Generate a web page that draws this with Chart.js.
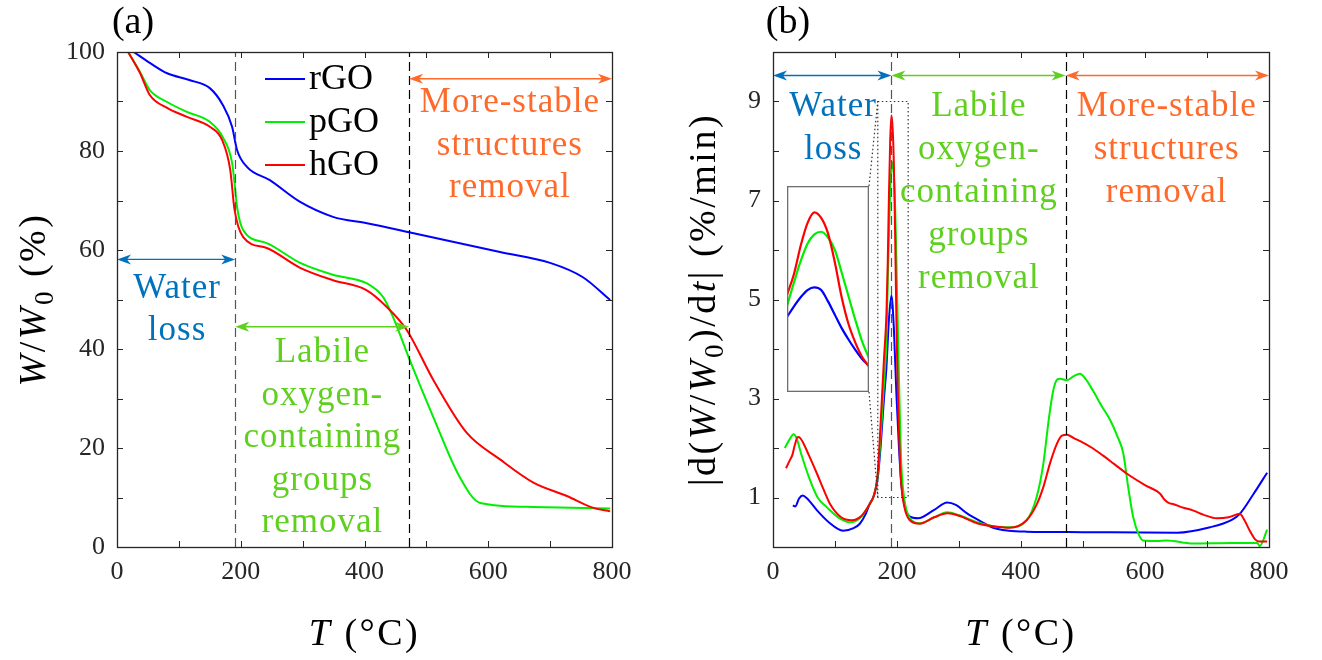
<!DOCTYPE html>
<html>
<head>
<meta charset="utf-8">
<title>TGA / DTG of rGO, pGO, hGO</title>
<script src="https://cdn.jsdelivr.net/npm/chart.js@4.4.1/dist/chart.umd.min.js"></script>
<style>
  html, body { margin: 0; padding: 0; background: #fff; }
  #page { position: relative; width: 1322px; height: 660px; overflow: hidden; }
  .panel { position: absolute; top: 0; width: 661px; height: 660px; }
  #panelA { left: 0; }
  #panelB { left: 661px; }
  #insetBox { position: absolute; left: 787px; top: 186px; width: 82px; height: 206px; background: #fff; }
</style>
</head>
<body>
<div id="page">
  <div class="panel" id="panelA"><canvas id="tgaChart"></canvas></div>
  <div class="panel" id="panelB"><canvas id="dtgChart"></canvas></div>
  <div id="insetBox"><canvas id="insetChart"></canvas></div>
</div>
<script>
const FONT = '"Liberation Serif", "Times New Roman", serif';
const INK = "#262626";

const seriesNames = ["rGO", "pGO", "hGO"];
const seriesColors = ["#0000ff", "#00ee00", "#ff0000"];

// (a) residual mass W/W0 (%) against T (°C)
const tgaT_rGO = [27, 53, 81, 118, 150, 171, 186, 194, 210, 247, 296, 349, 404, 472, 619, 700, 753, 797];
const tgaW_rGO = [100, 97.8, 95.7, 94.3, 92.7, 89.3, 84.9, 80.2, 76.8, 74.1, 69.7, 66.7, 65.4, 63.6, 59.6, 57.4, 54.5, 49.9];
const tgaT_pGO = [18, 37, 53, 81, 113, 150, 171, 186, 190, 194, 204, 242, 296, 349, 403, 430, 446, 473, 511, 554, 587, 672, 797];
const tgaW_pGO = [100, 96.0, 92.3, 89.9, 87.9, 85.9, 82.8, 77.6, 73.5, 68.7, 64, 61.4, 57.4, 55, 53.3, 50.5, 46.5, 37.8, 26.3, 14.1, 8.9, 8.1, 7.8];
const tgaT_hGO = [18, 37, 53, 81, 113, 150, 170, 183, 190, 204, 242, 296, 349, 403, 436, 468, 511, 565, 619, 673, 727, 770, 797];
const tgaW_hGO = [100, 95.8, 91.3, 88.7, 86.9, 84.9, 82.2, 76.2, 68.1, 62.6, 60.4, 56.4, 53.9, 51.9, 48.5, 43.9, 33.8, 23.1, 17.7, 13.0, 10.3, 7.9, 7.2];

// (b) |d(W/W0)/dt| (%/min) against T (°C)
const dtgT_rGO = [32, 36, 42, 48, 55, 71, 90, 113, 130, 140, 150, 156, 163, 169, 174, 179, 183, 187, 191, 195,
  199, 203, 207, 212, 220, 234, 260, 281, 295, 313, 335, 355, 380, 409, 500, 652, 705, 740, 753, 775, 797];
const dtgD_rGO = [0.84, 0.82, 0.98, 1.04, 0.98, 0.74, 0.5, 0.33, 0.38, 0.47, 0.68, 0.87, 1.05, 1.4, 2.1, 3.0, 3.64, 4.6, 5.08, 4.4,
  3.1, 2.05, 1.26, 0.85, 0.62, 0.58, 0.75, 0.9, 0.85, 0.68, 0.52, 0.39, 0.33, 0.31, 0.30, 0.29, 0.40, 0.55, 0.67, 1.07, 1.5];
const dtgT_pGO = [19, 27, 33, 38, 45, 60, 72, 87, 105, 124, 140, 156, 163, 169, 174, 179, 183, 185, 187, 189,
  191, 193, 195, 197, 199, 201, 203, 205, 207, 212, 220, 237, 260, 281, 300, 329, 355, 382, 409, 425,
  436, 445, 452, 458, 463, 474, 485, 495, 505, 516, 530, 544, 555, 565, 573, 581, 590, 597, 620, 635,
  677, 740, 781, 785, 797];
const dtgD_pGO = [2.0, 2.18, 2.28, 2.2, 1.9, 1.34, 1.0, 0.8, 0.6, 0.5, 0.58, 0.87, 1.05, 1.45, 2.3, 3.3, 4.17, 5.3, 6.35, 7.2,
  7.65, 7.78, 7.5, 6.9, 5.8, 4.65, 3.5, 2.45, 1.65, 0.95, 0.6, 0.48, 0.6, 0.7, 0.64, 0.5, 0.42, 0.4, 0.54, 1.0,
  1.68, 2.6, 3.16, 3.38, 3.4, 3.37, 3.45, 3.5, 3.38, 3.16, 2.85, 2.56, 2.25, 1.89, 1.2, 0.6, 0.25, 0.13, 0.12, 0.13,
  0.07, 0.08, 0.08, 0.02, 0.35];
const dtgT_hGO = [21, 27, 31, 35, 40, 44, 48, 58, 71, 82, 92, 110, 127, 142, 156, 163, 169, 174, 179, 183,
  185, 187, 189, 191, 193, 195, 197, 199, 201, 203, 205, 207, 212, 220, 237, 260, 282, 300, 329, 355,
  382, 409, 425, 436, 447, 458, 466, 474, 485, 500, 515, 532, 550, 571, 600, 624, 632, 640, 645, 660,
  677, 695, 716, 735, 753, 760, 769, 778, 785, 797];
const dtgD_hGO = [1.59, 1.75, 1.85, 2.05, 2.22, 2.2, 2.12, 1.85, 1.48, 1.15, 0.87, 0.6, 0.54, 0.62, 0.87, 1.05, 1.5, 2.6, 3.8, 4.71,
  5.7, 7.1, 8.2, 8.72, 8.45, 7.7, 6.3, 4.6, 3.3, 2.4, 1.7, 1.24, 0.8, 0.55, 0.47, 0.6, 0.68, 0.63, 0.48, 0.42,
  0.39, 0.54, 0.85, 1.21, 1.7, 2.09, 2.25, 2.27, 2.2, 2.11, 2.0, 1.85, 1.68, 1.48, 1.25, 1.08, 0.95, 0.88, 0.87, 0.8,
  0.74, 0.65, 0.58, 0.6, 0.67, 0.55, 0.33, 0.15, 0.11, 0.11];

// magnified main peak
const insetT = [183, 185, 187, 189, 191, 193, 195, 197, 199, 201, 203, 205, 207];
const inset_rGO = [3.64, 4.15, 4.6, 4.95, 5.08, 4.95, 4.4, 3.75, 3.1, 2.55, 2.05, 1.6, 1.26];
const inset_pGO = [4.17, 5.3, 6.35, 7.2, 7.65, 7.78, 7.5, 6.9, 5.8, 4.65, 3.5, 2.45, 1.65];
const inset_hGO = [4.71, 5.7, 7.1, 8.2, 8.72, 8.45, 7.7, 6.3, 4.6, 3.3, 2.4, 1.7, 1.24];
const zoomBoxT = [169, 218];
const zoomBoxD = [1, 9];

// decomposition stages
const regionBounds = [0, 191, 472, 800];
const regionNames = [
  ["Water", "loss"],
  ["Labile", "oxygen-", "containing", "groups", "removal"],
  ["More-stable", "structures", "removal"],
];
const regionColors = ["#0072BD", "#5FD01E", "#FF6A2A"];
const regionTextT = [97, 332, 635];

Chart.defaults.font.family = FONT;
Chart.defaults.color = INK;
Chart.defaults.animation = false;
Chart.defaults.plugins.legend.display = false;
Chart.defaults.plugins.tooltip.enabled = false;

const pts = (xs, ys) => xs.map((x, i) => ({ x, y: ys[i] }));
const font = (size, italic) => `${italic ? "italic " : ""}${size}px ${FONT}`;

function lineDataset(i, xs, ys, width = 2) {
  return {
    label: seriesNames[i],
    data: pts(xs, ys),
    borderColor: seriesColors[i],
    borderWidth: width,
    pointRadius: 0,
    cubicInterpolationMode: "monotone",
    order: 3 - i,
  };
}

// text made of pieces (italic symbols, subscripts), centred on x
function drawRich(ctx, parts, size, x, y, vertical) {
  ctx.save();
  ctx.translate(x, y);
  if (vertical) ctx.rotate(-Math.PI / 2);
  ctx.letterSpacing = "2.5px";
  ctx.textBaseline = "alphabetic";
  ctx.textAlign = "left";
  ctx.fillStyle = "#000";
  const fontOf = (p) => font(p.sub ? Math.round(size * 0.7) : size, p.it);
  let total = 0;
  const widths = parts.map((p) => {
    ctx.font = fontOf(p);
    const w = ctx.measureText(p.t).width;
    total += w;
    return w;
  });
  let cx = -total / 2;
  parts.forEach((p, i) => {
    ctx.font = fontOf(p);
    ctx.fillText(p.t, cx, p.sub ? size * 0.22 : 0);
    cx += widths[i];
  });
  ctx.restore();
}

function drawArrow(ctx, x1, x2, y, color) {
  ctx.strokeStyle = color;
  ctx.fillStyle = color;
  ctx.lineWidth = 1.4;
  ctx.beginPath();
  ctx.moveTo(x1 + 6, y);
  ctx.lineTo(x2 - 6, y);
  ctx.stroke();
  [[x1, -1], [x2, 1]].forEach(([tip, dir]) => {
    ctx.beginPath();
    ctx.moveTo(tip, y);
    ctx.lineTo(tip - dir * 14, y - 5);
    ctx.lineTo(tip - dir * 10, y);
    ctx.lineTo(tip - dir * 14, y + 5);
    ctx.closePath();
    ctx.fill();
  });
}

// closed box with inward ticks on all four sides
const framePlugin = {
  id: "frame",
  afterDraw(chart) {
    const { ctx, chartArea: a, scales } = chart;
    ctx.save();
    ctx.strokeStyle = INK;
    ctx.lineWidth = 1;
    ctx.beginPath();
    scales.x.ticks.forEach((t) => {
      const px = Math.round(scales.x.getPixelForValue(t.value)) + 0.5;
      ctx.moveTo(px, a.bottom);
      ctx.lineTo(px, a.bottom - 6);
      ctx.moveTo(px, a.top);
      ctx.lineTo(px, a.top + 6);
    });
    scales.y.ticks.forEach((t) => {
      const py = Math.round(scales.y.getPixelForValue(t.value)) + 0.5;
      ctx.moveTo(a.left, py);
      ctx.lineTo(a.left + 6, py);
      ctx.moveTo(a.right, py);
      ctx.lineTo(a.right - 6, py);
    });
    ctx.stroke();
    ctx.lineWidth = 1.3;
    ctx.strokeRect(a.left + 0.5, a.top + 0.5, a.right - a.left, a.bottom - a.top);
    ctx.restore();
  },
};

// stage boundaries, arrows and stage names
function regionPlugin(arrowLevels, textBaselines, lineGap) {
  return {
    id: "regions",
    afterDatasetsDraw(chart) {
      const { ctx, chartArea: a, scales: { x, y } } = chart;
      ctx.save();
      ctx.lineWidth = 1.2;
      ctx.setLineDash([9, 5]);
      [1, 2].forEach((k) => {
        const px = Math.round(x.getPixelForValue(regionBounds[k])) + 0.5;
        ctx.strokeStyle = k === 1 ? "#555" : "#000";
        ctx.beginPath();
        ctx.moveTo(px, a.bottom);
        ctx.lineTo(px, a.top);
        ctx.stroke();
      });
      ctx.setLineDash([]);
      regionNames.forEach((lines, k) => {
        const x1 = x.getPixelForValue(regionBounds[k]);
        const x2 = x.getPixelForValue(regionBounds[k + 1]);
        drawArrow(ctx, x1, x2, y.getPixelForValue(arrowLevels[k]), regionColors[k]);
        ctx.fillStyle = regionColors[k];
        ctx.font = font(35);
        ctx.letterSpacing = "1px";
        ctx.textAlign = "center";
        ctx.textBaseline = "alphabetic";
        const tx = x.getPixelForValue(regionTextT[k]);
        const ty = y.getPixelForValue(textBaselines[k]);
        lines.forEach((s, j) => ctx.fillText(s, tx, ty + j * lineGap));
      });
      ctx.restore();
    },
  };
}

function titlesPlugin(panelLabel, labelX, yParts, yTitleX) {
  return {
    id: "titles",
    afterDraw(chart) {
      const { ctx, chartArea: a } = chart;
      drawRich(ctx, [{ t: "T", it: true }, { t: " (°C)" }], 38, (a.left + a.right) / 2, 645, false);
      drawRich(ctx, yParts, 38, yTitleX, (a.top + a.bottom) / 2, true);
      ctx.save();
      ctx.font = font(38);
      ctx.fillStyle = "#000";
      ctx.textAlign = "center";
      ctx.fillText(panelLabel, labelX, 33);
      ctx.restore();
    },
  };
}

const legendPlugin = {
  id: "seriesLegend",
  afterDraw(chart) {
    const { ctx, chartArea: a } = chart;
    ctx.save();
    ctx.font = font(36);
    ctx.fillStyle = "#000";
    ctx.textBaseline = "alphabetic";
    seriesNames.forEach((name, i) => {
      const ly = a.top + 27 + i * 43;
      ctx.strokeStyle = seriesColors[i];
      ctx.lineWidth = 2;
      ctx.beginPath();
      ctx.moveTo(a.left + 148, ly);
      ctx.lineTo(a.left + 188, ly);
      ctx.stroke();
      ctx.fillText(name, a.left + 192, ly + 10);
    });
    ctx.restore();
  },
};

function axes(yMax, yStep, yLabel, yWidth) {
  return {
    x: {
      type: "linear",
      min: 0,
      max: 800,
      grid: { display: false, drawTicks: false },
      border: { display: false },
      ticks: {
        stepSize: 100,
        autoSkip: false,
        maxRotation: 0,
        padding: 10,
        font: { size: 26 },
        color: INK,
        callback: (v) => (v % 200 === 0 ? v : ""),
      },
      afterFit: (s) => { s.height = 113; },
    },
    y: {
      min: 0,
      max: yMax,
      grid: { display: false, drawTicks: false },
      border: { display: false },
      ticks: {
        stepSize: yStep,
        autoSkip: false,
        padding: 12,
        font: { size: 26 },
        color: INK,
        callback: yLabel,
      },
      afterFit: (s) => { s.width = yWidth; },
    },
  };
}

new Chart(document.getElementById("tgaChart"), {
  type: "line",
  data: {
    datasets: [
      lineDataset(0, tgaT_rGO, tgaW_rGO),
      lineDataset(1, tgaT_pGO, tgaW_pGO),
      lineDataset(2, tgaT_hGO, tgaW_hGO),
    ],
  },
  options: {
    responsive: true,
    maintainAspectRatio: false,
    devicePixelRatio: 1,
    layout: { padding: { top: 52, right: 49, left: 0, bottom: 0 } },
    scales: axes(100, 10, (v) => (v % 20 === 0 ? v : ""), 117),
  },
  plugins: [
    regionPlugin([58.1, 44.5, 94.6], [50.4, 37.3, 87.8], 42.5),
    legendPlugin,
    titlesPlugin("(a)", 133,
      [{ t: "W", it: true }, { t: "/" }, { t: "W", it: true }, { t: "0", sub: true }, { t: " (%)" }], 45),
    framePlugin,
  ],
});

// dotted box round the peak, joined to the magnified view
const zoomPlugin = {
  id: "zoomBox",
  afterDatasetsDraw(chart) {
    const { ctx, scales: { x, y } } = chart;
    const panel = document.getElementById("panelB");
    const inset = document.getElementById("insetBox");
    const il = inset.offsetLeft - panel.offsetLeft;
    const it = inset.offsetTop - panel.offsetTop;
    const ir = il + inset.offsetWidth;
    const ib = it + inset.offsetHeight;
    const bx1 = x.getPixelForValue(zoomBoxT[0]);
    const bx2 = x.getPixelForValue(zoomBoxT[1]);
    const by1 = y.getPixelForValue(zoomBoxD[1]);
    const by2 = y.getPixelForValue(zoomBoxD[0]);
    ctx.save();
    ctx.strokeStyle = "#333";
    ctx.lineWidth = 1.2;
    ctx.setLineDash([1.5, 2.5]);
    ctx.strokeRect(bx1, by1, bx2 - bx1, by2 - by1);
    ctx.beginPath();
    ctx.moveTo(ir, it);
    ctx.lineTo(bx1, by1);
    ctx.moveTo(ir, ib);
    ctx.lineTo(bx1, by2);
    ctx.stroke();
    ctx.restore();
  },
};

new Chart(document.getElementById("dtgChart"), {
  type: "line",
  data: {
    datasets: [
      lineDataset(0, dtgT_rGO, dtgD_rGO),
      lineDataset(1, dtgT_pGO, dtgD_pGO),
      lineDataset(2, dtgT_hGO, dtgD_hGO),
    ],
  },
  options: {
    responsive: true,
    maintainAspectRatio: false,
    devicePixelRatio: 1,
    layout: { padding: { top: 52, right: 53, left: 0, bottom: 0 } },
    scales: axes(10, 1, (v) => (v % 2 === 1 ? v : ""), 112),
  },
  plugins: [
    zoomPlugin,
    regionPlugin([9.525, 9.525, 9.525], [8.70, 8.70, 8.70], 43),
    titlesPlugin("(b)", 127,
      [{ t: "|d(" }, { t: "W", it: true }, { t: "/" }, { t: "W", it: true }, { t: "0", sub: true },
       { t: ")/d" }, { t: "t", it: true }, { t: "| (%/min)" }], 54),
    framePlugin,
  ],
});

new Chart(document.getElementById("insetChart"), {
  type: "line",
  data: {
    datasets: [
      lineDataset(0, insetT, inset_rGO, 2.2),
      lineDataset(1, insetT, inset_pGO, 2.2),
      lineDataset(2, insetT, inset_hGO, 2.2),
    ],
  },
  options: {
    responsive: true,
    maintainAspectRatio: false,
    devicePixelRatio: 1,
    layout: { padding: 0 },
    scales: {
      x: { type: "linear", min: insetT[0], max: insetT[insetT.length - 1], display: false },
      y: { min: 0, max: 10, display: false },
    },
  },
  plugins: [{
    id: "insetFrame",
    afterDraw(chart) {
      const { ctx, width, height } = chart;
      ctx.save();
      ctx.strokeStyle = "#6e6e6e";
      ctx.lineWidth = 1.3;
      ctx.strokeRect(0.65, 0.65, width - 1.3, height - 1.3);
      ctx.restore();
    },
  }],
});
</script>
</body>
</html>
